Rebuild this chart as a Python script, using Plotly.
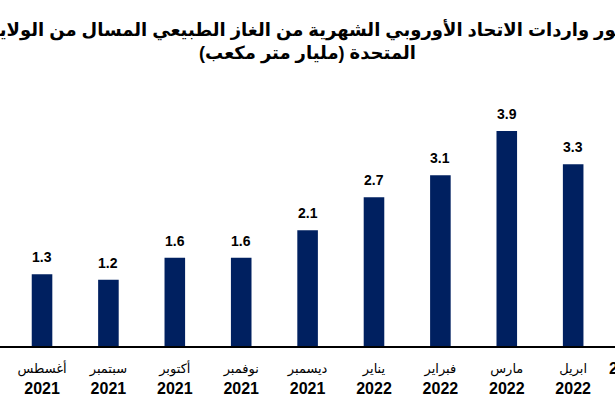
import plotly.graph_objects as go

# ---- data ----
months = ["أغسطس", "سبتمبر", "أكتوبر", "نوفمبر", "ديسمبر", "يناير", "فبراير", "مارس", "ابريل"]
years = ["2021", "2021", "2021", "2021", "2021", "2022", "2022", "2022", "2022"]
values = [1.3, 1.2, 1.6, 1.6, 2.1, 2.7, 3.1, 3.9, 3.3]
next_label = "2022 مايو"  # next month, cut off at the right edge
title_lines = [
    "تطور واردات الاتحاد الأوروبي الشهرية من الغاز الطبيعي المسال من الولايات",
    "المتحدة (مليار متر مكعب)",
]

categories = [f"{m} {y}" for m, y in zip(months, years)]
ticktext = [f"<span style='font-size:13px;font-weight:normal'>{m}</span><br><b>{y}</b>"
            for m, y in zip(months, years)]

FONT = "Arial, 'Liberation Sans', 'DejaVu Sans', sans-serif"
NAVY = "#002060"

fig = go.Figure()
fig.add_trace(go.Bar(
    x=categories, y=values,
    marker=dict(color=NAVY, line=dict(width=0)),
    hoverinfo="skip",
))

annotations = [
    dict(x=c, y=v, xref="x", yref="y", text=f"<b>{v}</b>", showarrow=False,
         yanchor="bottom", yshift=7, font=dict(size=14, color="black", family=FONT))
    for c, v in zip(categories, values)
]
annotations.append(dict(
    x=1, y=0, xref="paper", yref="paper", text=f"<b>{next_label}</b>", showarrow=False,
    xanchor="left", yanchor="top", xshift=-8, yshift=-12,
    font=dict(size=16, color="black", family=FONT),
))

fig.update_layout(
    width=615, height=410,
    margin=dict(l=0, r=0, t=98, b=64, autoexpand=False),
    paper_bgcolor="white", plot_bgcolor="white",
    showlegend=False,
    bargap=0.69,
    hovermode=False,
    title=dict(
        text="<b>" + "<br>".join(title_lines) + "</b>",
        x=0.5, xanchor="center", xref="paper",
        y=0.912, yanchor="top", yref="container",
        font=dict(size=18, color="black", family=FONT),
    ),
    xaxis=dict(
        type="category",
        range=[-0.633, 8.63],
        tickmode="array", tickvals=categories, ticktext=ticktext,
        tickfont=dict(size=16, color="black", family=FONT),
        showline=True, linecolor="black", linewidth=2,
        showgrid=False, zeroline=False,
        ticks="outside", ticklen=6, tickcolor="rgba(0,0,0,0)",
        automargin=False, fixedrange=True,
    ),
    yaxis=dict(visible=False, range=[0, 4.5], fixedrange=True),
    annotations=annotations,
)

fig.write_html(
    "out.html",
    config={"displayModeBar": False, "staticPlot": True},
    post_script="document.body.style.margin='0';",
)
